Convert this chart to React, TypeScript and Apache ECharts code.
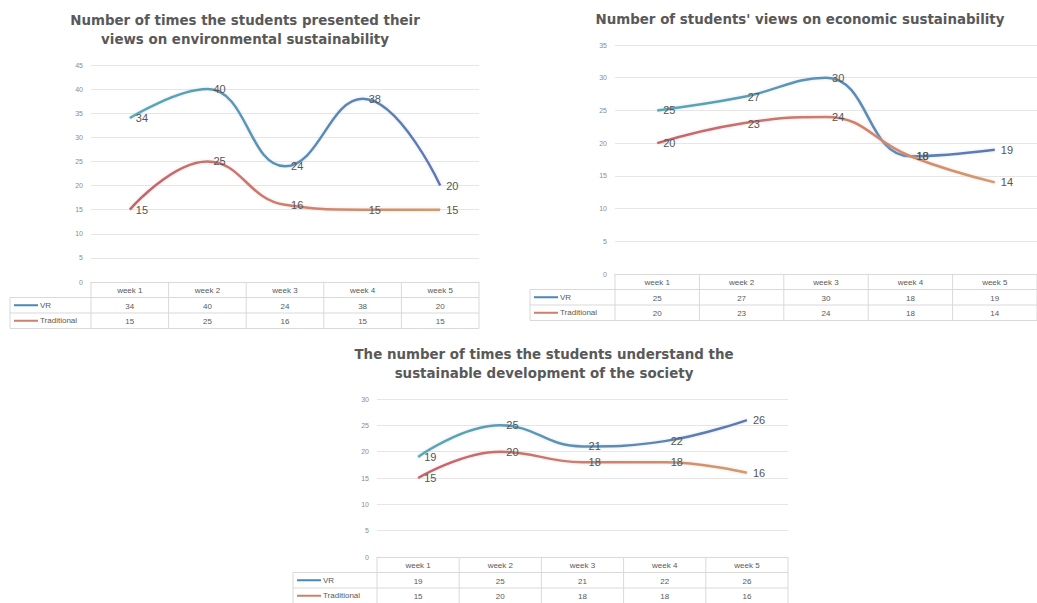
import React, { useEffect, useRef } from "react";
import * as echarts from "echarts";

const weeks = ["week 1", "week 2", "week 3", "week 4", "week 5"];
const seriesNames = ["VR", "Traditional"];

const envTitle = "Number of times the students presented their\nviews on environmental sustainability";
const envVR = [34, 40, 24, 38, 20];
const envTrad = [15, 25, 16, 15, 15];
const envMax = 45;

const ecoTitle = "Number of students' views on economic sustainability";
const ecoVR = [25, 27, 30, 18, 19];
const ecoTrad = [20, 23, 24, 18, 14];
const ecoMax = 35;

const socTitle = "The number of times the students understand the\nsustainable development of the society";
const socVR = [19, 25, 21, 22, 26];
const socTrad = [15, 20, 18, 18, 16];
const socMax = 30;

const vrGrad = () =>
  new echarts.graphic.LinearGradient(0, 0, 1, 0, [
    { offset: 0, color: "#55aab9" },
    { offset: 1, color: "#5a78b8" },
  ]);
const tradGrad = () =>
  new echarts.graphic.LinearGradient(0, 0, 1, 0, [
    { offset: 0, color: "#c9606a" },
    { offset: 1, color: "#d69a6a" },
  ]);

const panels = [
  { title: envTitle, vr: envVR, trad: envTrad, max: envMax, left: 91, right: 479, top: 65, bottom: 282, tableLeft: 10, titleX: 240, titleY: 6 },
  { title: ecoTitle, vr: ecoVR, trad: ecoTrad, max: ecoMax, left: 615, right: 1037, top: 45, bottom: 274, tableLeft: 530, titleX: 795, titleY: 5 },
  { title: socTitle, vr: socVR, trad: socTrad, max: socMax, left: 377, right: 788, top: 399, bottom: 557, tableLeft: 293, titleX: 539, titleY: 340 },
];

const ROW = 15.5;
const textColor = "#595959";
const lineColor = "#d9d9d9";
const font = "Liberation Sans, Arial, sans-serif";

export default function App() {
  const ref = useRef<HTMLDivElement>(null);
  useEffect(() => {
    if (!ref.current) return;
    const chart = echarts.init(ref.current, null, { renderer: "svg" });

    const grids: any[] = [];
    const xAxes: any[] = [];
    const yAxes: any[] = [];
    const series: any[] = [];
    const graphics: any[] = [];
    const titles: any[] = [];

    panels.forEach((p, k) => {
      grids.push({ left: p.left, top: p.top, width: p.right - p.left, height: p.bottom - p.top, containLabel: false });
      xAxes.push({
        type: "category",
        gridIndex: k,
        data: weeks,
        boundaryGap: true,
        axisLine: { show: true, lineStyle: { color: lineColor } },
        axisTick: { show: false },
        splitLine: { show: false },
        axisLabel: {
          margin: 1,
          interval: 0,
          formatter: (v: string, i: number) => `{h|${v}}\n{v|${p.vr[i]}}\n{t|${p.trad[i]}}`,
          rich: {
            h: { fontSize: 8, lineHeight: ROW, color: textColor, fontFamily: font },
            v: { fontSize: 8, lineHeight: ROW, color: textColor, fontFamily: font },
            t: { fontSize: 8, lineHeight: ROW, color: textColor, fontFamily: font },
          },
        },
      });
      yAxes.push({
        type: "value",
        gridIndex: k,
        min: 0,
        max: p.max,
        interval: 5,
        axisLine: { show: false },
        axisTick: { show: false },
        axisLabel: { fontSize: 7, color: "#8c8c8c", margin: 8, fontFamily: font },
        splitLine: { lineStyle: { color: "#e6e6e6", width: 1 } },
      });
      const mk = (name: string, data: number[], grad: any) => ({
        type: "line",
        name,
        xAxisIndex: k,
        yAxisIndex: k,
        data,
        smooth: 0.45,
        showSymbol: true,
        symbol: "circle",
        symbolSize: 0.1,
        lineStyle: { width: 2.5, color: grad, shadowColor: "rgba(200,200,200,0.5)", shadowBlur: 3 },
        itemStyle: { color: "rgba(0,0,0,0)" },
        label: {
          show: true,
          position: "right",
          distance: 6,
          fontSize: 11,
          color: "#555555",
          fontFamily: font,
        },
        labelLayout: { hideOverlap: false },
        emphasis: { disabled: true },
      });
      series.push(mk(seriesNames[0], p.vr, vrGrad()));
      series.push(mk(seriesNames[1], p.trad, tradGrad()));

      titles.push({
        text: p.title,
        left: p.titleX,
        top: p.titleY,
        textAlign: "center",
        textStyle: { fontSize: 13.4, fontWeight: "bold", color: "#595959", lineHeight: 19, fontFamily: "DejaVu Sans, sans-serif" },
      });

      const y0 = p.bottom;
      const y1 = y0 + ROW;
      const y2 = y1 + ROW;
      const y3 = y2 + ROW;
      const stroke = { stroke: lineColor, lineWidth: 1 };
      const cw = (p.right - p.left) / weeks.length;
      for (let i = 0; i <= weeks.length; i++) {
        const x = p.left + i * cw;
        graphics.push({ type: "line", shape: { x1: x, y1: y0, x2: x, y2: y3 }, style: stroke, silent: true });
      }
      graphics.push({ type: "line", shape: { x1: p.tableLeft, y1: y1, x2: p.tableLeft, y2: y3 }, style: stroke, silent: true });
      [y1, y2, y3].forEach((yy) =>
        graphics.push({ type: "line", shape: { x1: p.tableLeft, y1: yy, x2: p.right, y2: yy }, style: stroke, silent: true })
      );
      const keys = [
        { name: seriesNames[0], color: "#4a86b8", y: y1 + ROW / 2 },
        { name: seriesNames[1], color: "#c8826a", y: y2 + ROW / 2 },
      ];
      keys.forEach((kk) => {
        graphics.push({
          type: "line",
          shape: { x1: p.tableLeft + 4, y1: kk.y, x2: p.tableLeft + 28, y2: kk.y },
          style: { stroke: kk.color, lineWidth: 2 },
          silent: true,
        });
        graphics.push({
          type: "text",
          x: p.tableLeft + 30,
          y: kk.y,
          style: { text: kk.name, fontSize: 8, fill: textColor, verticalAlign: "middle", fontFamily: font },
          silent: true,
        });
      });
    });

    chart.setOption({
      animation: false,
      backgroundColor: "#ffffff",
      title: titles,
      grid: grids,
      xAxis: xAxes,
      yAxis: yAxes,
      series,
      graphic: graphics,
    });
    return () => chart.dispose();
  }, []);
  return <div ref={ref} style={{ position: "fixed", left: 0, top: 0, width: 1037, height: 603 }} />;
}
